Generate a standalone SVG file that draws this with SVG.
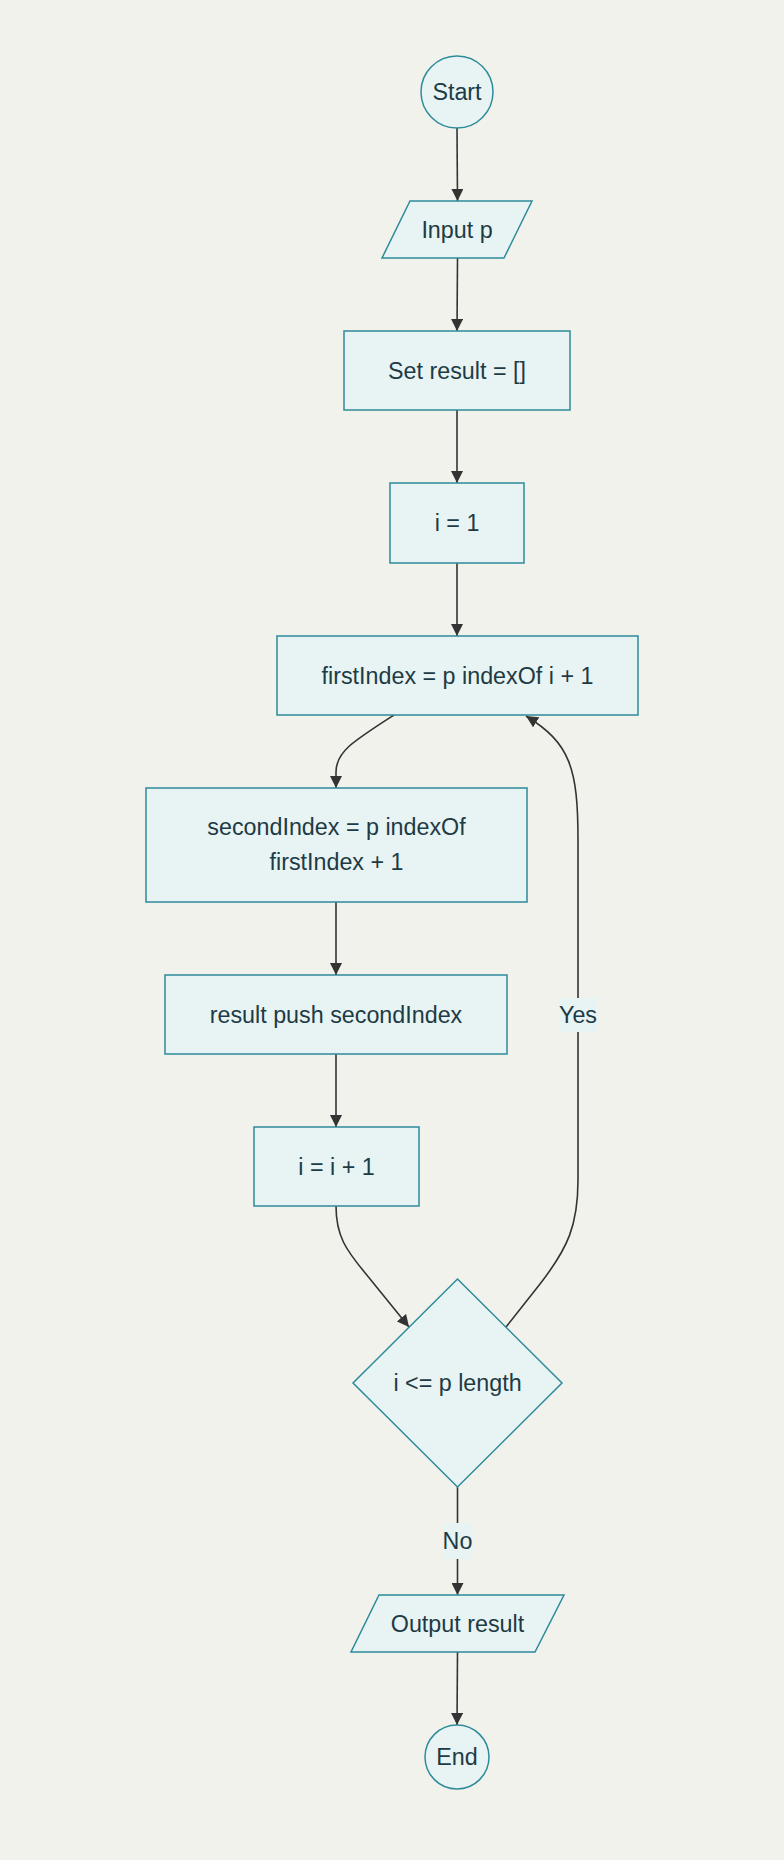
<svg xmlns="http://www.w3.org/2000/svg" width="784" height="1860" viewBox="0 0 784 1860">
<defs>
<style>
.bg{fill:#f2f2ed}
.node{fill:#e8f3f4;stroke:#2e8b9a;stroke-width:1.5}
.t{font-family:"Liberation Sans",Arial,sans-serif;font-size:23.3px;fill:#1d3b44;text-anchor:middle}
.edge{fill:none;stroke:#333333;stroke-width:1.6}
.lbl{fill:#e8f3f4}
</style>
<marker id="arr" viewBox="0 0 12 12" refX="12" refY="6" markerWidth="12" markerHeight="12" markerUnits="userSpaceOnUse" orient="auto">
<path d="M0,0 L12,6 L0,12 z" fill="#333333"/>
</marker>
</defs>
<rect class="bg" x="0" y="0" width="784" height="1860"/>
<g id="connectors">
<path class="edge" marker-end="url(#arr)" d="M457,128 L457.5,201"/>
<path class="edge" marker-end="url(#arr)" d="M457.5,258 L457,331"/>
<path class="edge" marker-end="url(#arr)" d="M457,410 L457,483"/>
<path class="edge" marker-end="url(#arr)" d="M457,563 L457,636"/>
<path class="edge" marker-end="url(#arr)" d="M394,715 C352,742 336,752 336,772 L336,788"/>
<path class="edge" marker-end="url(#arr)" d="M336,902 L336,975"/>
<path class="edge" marker-end="url(#arr)" d="M336,1054 L336,1127"/>
<path class="edge" marker-end="url(#arr)" d="M336,1206 C336,1236 346,1250 366,1274 L409,1327"/>
<path class="edge" marker-end="url(#arr)" d="M506,1327 L540,1284 C568,1248 578,1225 578,1180 L578,840 C578,768 570,743 526,716"/>
<path class="edge" marker-end="url(#arr)" d="M457.5,1487 L457.5,1595"/>
<path class="edge" marker-end="url(#arr)" d="M457.5,1652 L457,1725"/>
<rect class="lbl" x="559" y="998" width="38" height="34"/>
<text class="t" x="578" y="1023">Yes</text>
<rect class="lbl" x="443" y="1523" width="29" height="36"/>
<text class="t" x="457.5" y="1549">No</text>
</g>
<g id="start">
<circle class="node" cx="457" cy="92" r="36"/>
<text class="t" x="457" y="100">Start</text>
</g>
<g id="input">
<polygon class="node" points="410,201 532,201 504,258 382,258"/>
<text class="t" x="457" y="237.5">Input p</text>
</g>
<g id="setresult">
<rect class="node" x="344" y="331" width="226" height="79"/>
<text class="t" x="457" y="378.5">Set result = []</text>
</g>
<g id="i1">
<rect class="node" x="390" y="483" width="134" height="80"/>
<text class="t" x="457" y="531">i = 1</text>
</g>
<g id="firstindex">
<rect class="node" x="277" y="636" width="361" height="79"/>
<text class="t" x="457.5" y="683.5">firstIndex = p indexOf i + 1</text>
</g>
<g id="secondindex">
<rect class="node" x="146" y="788" width="381" height="114"/>
<text class="t" x="336.5" y="835">secondIndex = p indexOf</text>
<text class="t" x="336.5" y="870">firstIndex + 1</text>
</g>
<g id="push">
<rect class="node" x="165" y="975" width="342" height="79"/>
<text class="t" x="336" y="1022.5">result push secondIndex</text>
</g>
<g id="incr">
<rect class="node" x="254" y="1127" width="165" height="79"/>
<text class="t" x="336.5" y="1174.5">i = i + 1</text>
</g>
<g id="decision">
<polygon class="node" points="457.5,1279 562,1383 457.5,1487 353,1383"/>
<text class="t" x="457.5" y="1391">i &lt;= p length</text>
</g>
<g id="output">
<polygon class="node" points="379,1595 564,1595 535,1652 351,1652"/>
<text class="t" x="457.5" y="1631.5">Output result</text>
</g>
<g id="end">
<circle class="node" cx="457" cy="1757" r="32"/>
<text class="t" x="457" y="1765">End</text>
</g>
</svg>
